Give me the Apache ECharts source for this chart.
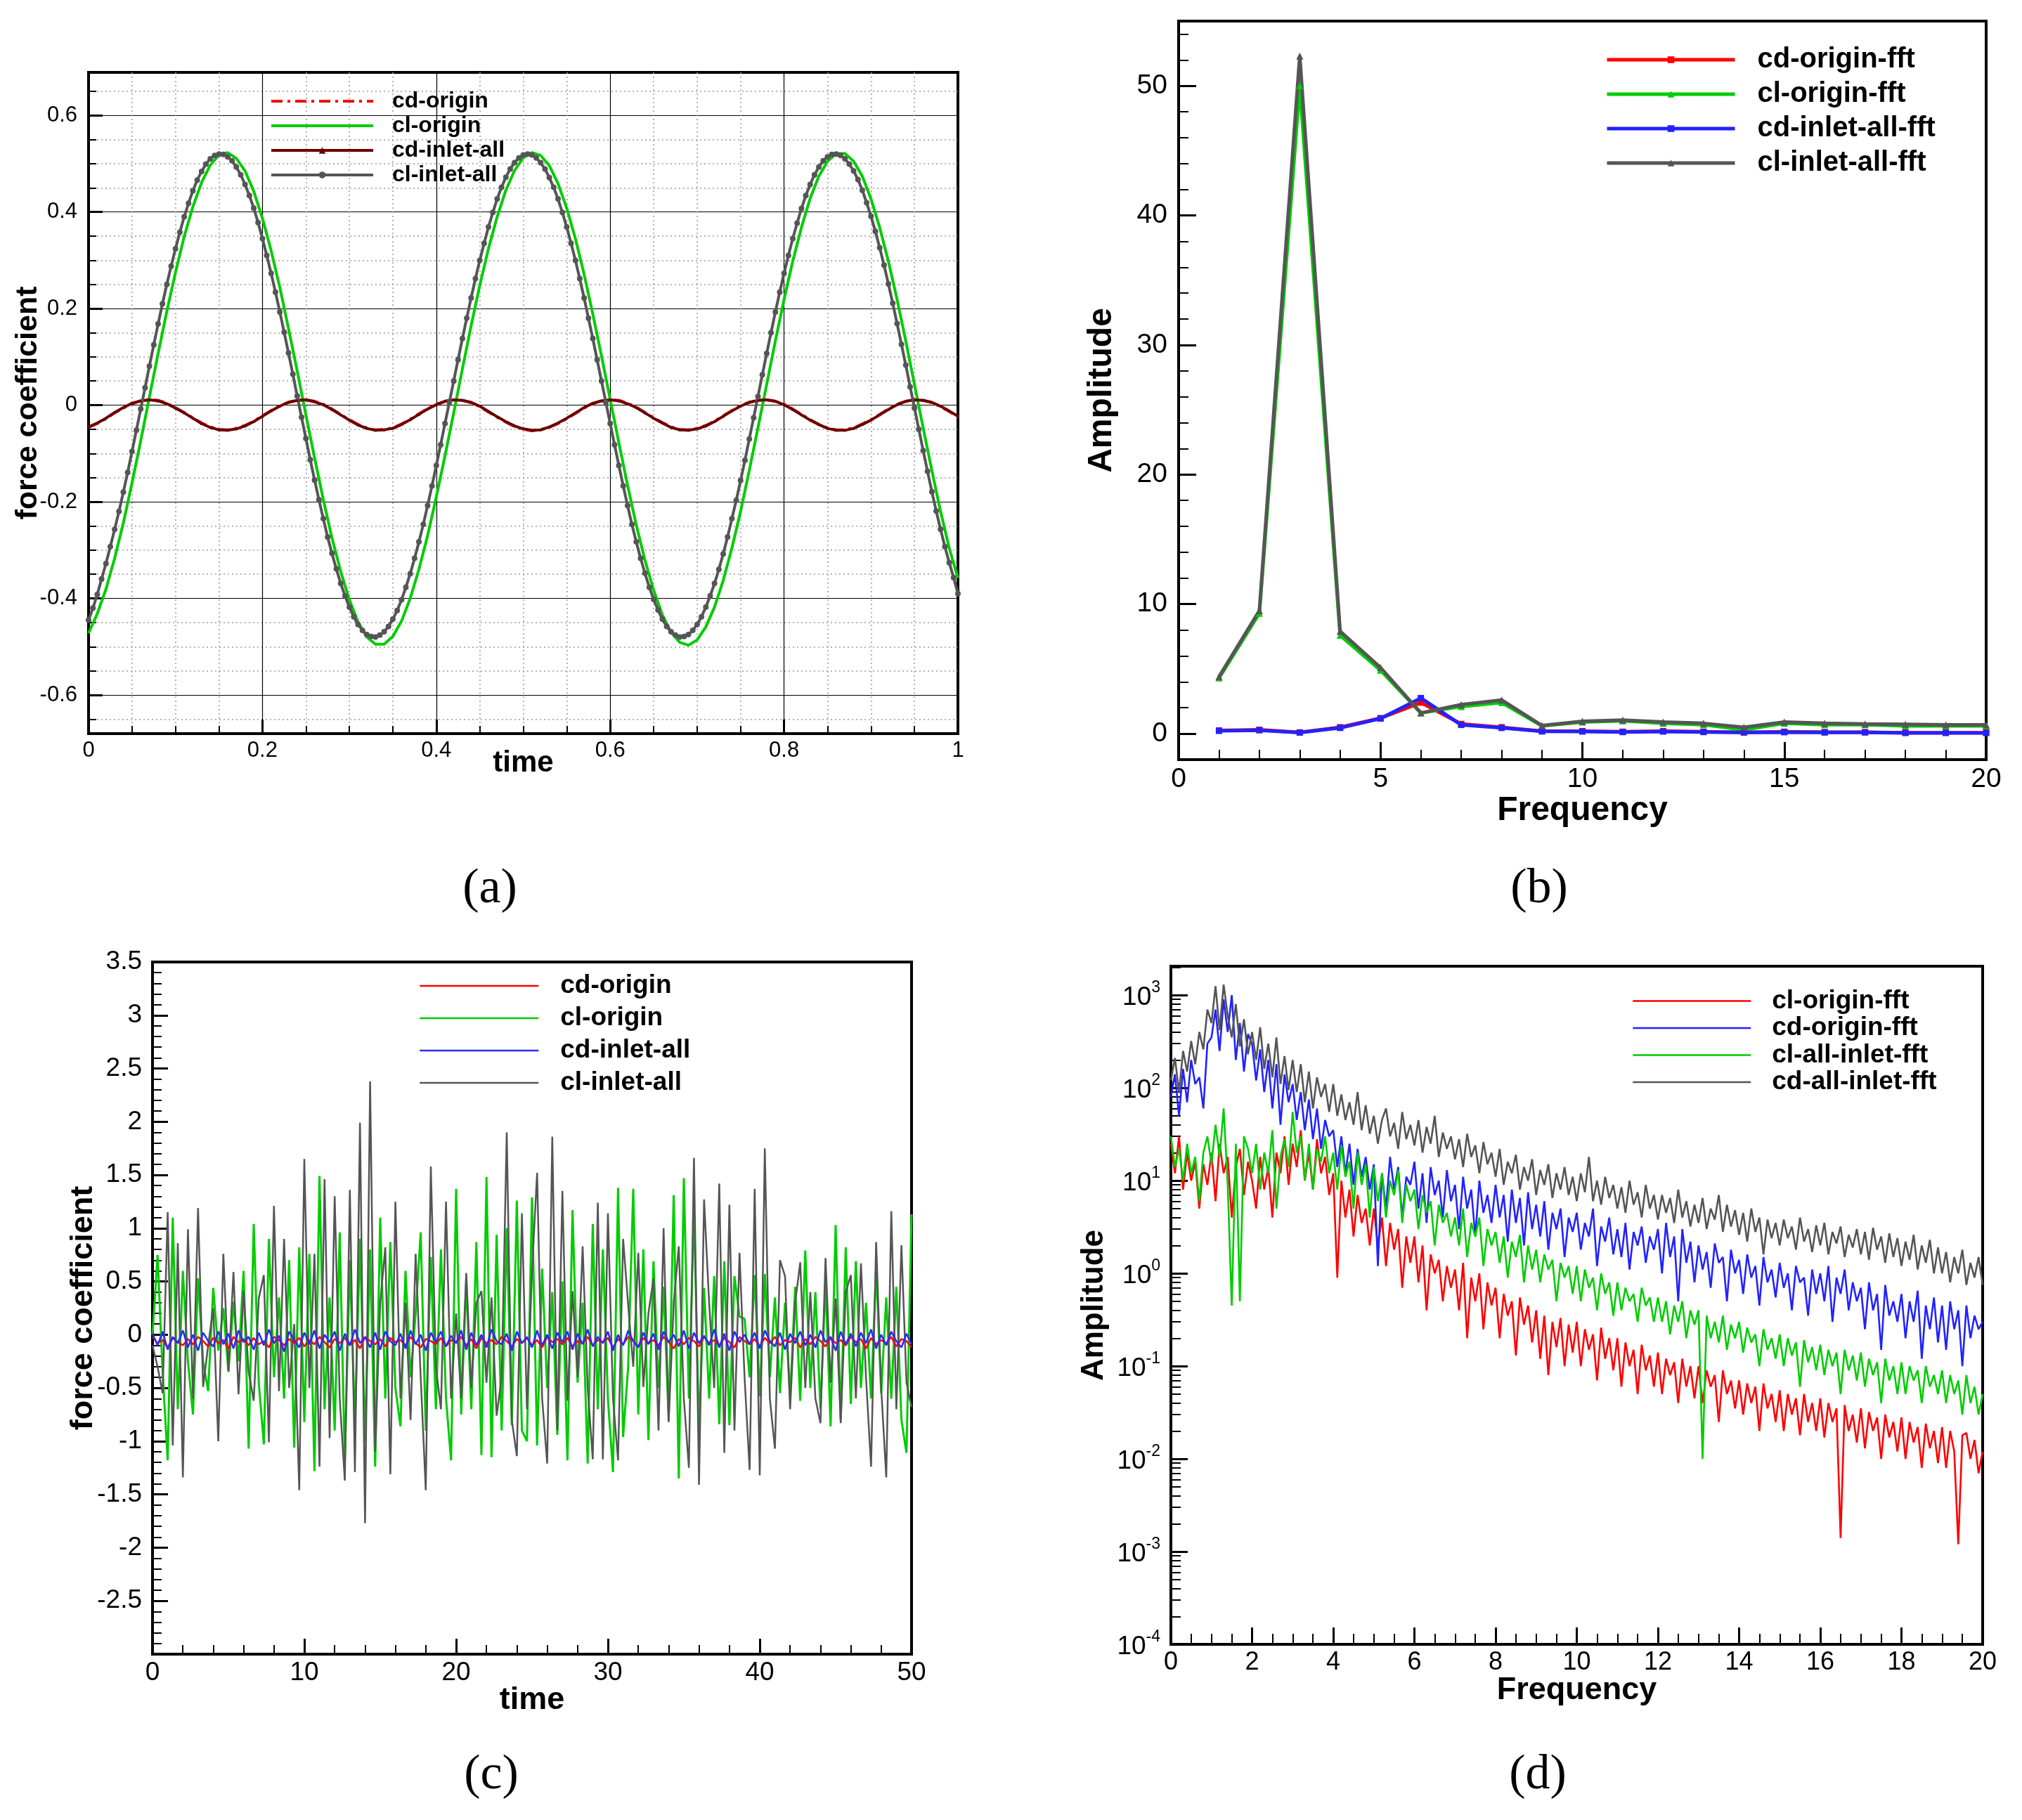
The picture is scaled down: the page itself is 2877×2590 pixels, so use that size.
<!DOCTYPE html>
<html><head><meta charset="utf-8">
<script src="https://cdn.jsdelivr.net/npm/echarts@6/dist/echarts.min.js"></script>
<style>html,body{margin:0;padding:0;background:#fff}#c{width:2877px;height:2590px}</style>
</head><body><div id="c"></div>
<script>
// ---------- panel (a): force coefficients, t = 0..1 ----------
const aCdOrigin = [-0.046,-0.038,-0.028,-0.016,-0.006,0.003,0.009,0.011,0.010,0.004,
-0.005,-0.015,-0.026,-0.037,-0.045,-0.050,-0.051,-0.048,-0.042,-0.033,
-0.022,-0.011,-0.001,0.006,0.010,0.011,0.008,0.002,-0.008,-0.019,
-0.030,-0.040,-0.047,-0.051,-0.050,-0.047,-0.039,-0.029,-0.018,-0.007,
0.002,0.008,0.011,0.010,0.005,-0.003,-0.014,-0.025,-0.035,-0.044,
-0.050,-0.053,-0.051,-0.046,-0.038,-0.028,-0.017,-0.006,0.003,0.009,
0.011,0.010,0.004,-0.004,-0.015,-0.026,-0.036,-0.045,-0.050,-0.051,
-0.048,-0.042,-0.033,-0.022,-0.011,-0.001,0.006,0.010,0.011,0.008,
0.002,-0.008,-0.019,-0.030,-0.040,-0.047,-0.051,-0.051,-0.047,-0.039,
-0.030,-0.019,-0.008,0.002,0.008,0.011,0.010,0.005,-0.003,-0.013,
-0.024];
const aClOrigin = [-0.472,-0.432,-0.381,-0.317,-0.244,-0.161,-0.074,0.017,0.107,0.194,
0.275,0.349,0.411,0.461,0.497,0.518,0.523,0.511,0.485,0.443,
0.387,0.320,0.244,0.159,0.071,-0.020,-0.109,-0.195,-0.275,-0.344,
-0.403,-0.449,-0.480,-0.495,-0.495,-0.479,-0.447,-0.400,-0.340,-0.270,
-0.190,-0.105,-0.016,0.075,0.164,0.248,0.324,0.390,0.445,0.486,
0.512,0.523,0.517,0.496,0.459,0.408,0.345,0.271,0.189,0.102,
0.012,-0.078,-0.166,-0.248,-0.321,-0.383,-0.434,-0.470,-0.491,-0.497,
-0.486,-0.459,-0.418,-0.363,-0.296,-0.220,-0.135,-0.047,0.043,0.133,
0.219,0.298,0.368,0.428,0.474,0.505,0.521,0.521,0.505,0.474,
0.427,0.368,0.298,0.219,0.133,0.043,-0.047,-0.135,-0.220,-0.296,
-0.358];
const aCdInlet = [-0.045,-0.037,-0.027,-0.015,-0.005,0.004,0.009,0.011,0.009,0.003,
-0.006,-0.016,-0.027,-0.038,-0.046,-0.051,-0.052,-0.049,-0.043,-0.034,
-0.023,-0.012,-0.002,0.006,0.010,0.011,0.007,0.001,-0.009,-0.020,
-0.031,-0.041,-0.048,-0.052,-0.051,-0.048,-0.040,-0.030,-0.019,-0.008,
0.001,0.008,0.011,0.010,0.006,-0.002,-0.013,-0.024,-0.034,-0.043,
-0.049,-0.052,-0.051,-0.045,-0.037,-0.027,-0.016,-0.005,0.004,0.009,
0.011,0.009,0.003,-0.005,-0.016,-0.027,-0.037,-0.046,-0.051,-0.052,
-0.049,-0.043,-0.034,-0.023,-0.012,-0.002,0.006,0.010,0.011,0.008,
0.001,-0.009,-0.020,-0.031,-0.040,-0.048,-0.052,-0.052,-0.048,-0.040,
-0.031,-0.020,-0.009,0.001,0.008,0.011,0.010,0.006,-0.002,-0.012,
-0.023];
const aClInlet = [-0.445,-0.420,-0.392,-0.360,-0.328,-0.293,-0.257,-0.220,-0.180,-0.139,
-0.096,-0.052,-0.008,0.036,0.081,0.125,0.168,0.210,0.250,0.288,
0.324,0.358,0.390,0.418,0.444,0.466,0.484,0.499,0.510,0.517,
0.520,0.519,0.514,0.506,0.493,0.477,0.457,0.434,0.408,0.378,
0.345,0.310,0.273,0.234,0.193,0.151,0.108,0.064,0.019,-0.025,
-0.069,-0.113,-0.155,-0.196,-0.235,-0.273,-0.307,-0.339,-0.369,-0.395,
-0.418,-0.438,-0.454,-0.466,-0.475,-0.479,-0.480,-0.476,-0.469,-0.458,
-0.443,-0.425,-0.403,-0.377,-0.349,-0.317,-0.283,-0.247,-0.208,-0.167,
-0.125,-0.082,-0.038,0.006,0.050,0.094,0.138,0.180,0.222,0.262,
0.300,0.335,0.369,0.399,0.427,0.451,0.472,0.489,0.502,0.512,
0.518,0.520,0.518,0.512,0.502,0.489,0.471,0.451,0.427,0.399,
0.369,0.335,0.300,0.262,0.222,0.180,0.138,0.094,0.050,0.006,
-0.038,-0.082,-0.125,-0.167,-0.208,-0.247,-0.283,-0.317,-0.348,-0.377,
-0.402,-0.424,-0.443,-0.458,-0.469,-0.476,-0.480,-0.479,-0.475,-0.466,
-0.454,-0.438,-0.418,-0.395,-0.369,-0.340,-0.308,-0.273,-0.235,-0.197,
-0.156,-0.114,-0.070,-0.026,0.018,0.063,0.107,0.150,0.193,0.234,
0.273,0.310,0.345,0.377,0.407,0.434,0.457,0.477,0.493,0.506,
0.514,0.519,0.520,0.517,0.510,0.499,0.485,0.467,0.445,0.419,
0.391,0.360,0.326,0.290,0.251,0.211,0.169,0.126,0.083,0.038,
-0.006,-0.050,-0.094,-0.137,-0.179,-0.219,-0.257,-0.293,-0.326,-0.357,
-0.390];
const aYMajor = [-0.6,-0.4,-0.2,0,0.2,0.4,0.6];
const aYMinor = [-0.65,-0.55,-0.5,-0.45,-0.35,-0.3,-0.25,-0.15,-0.1,-0.05,0.05,0.1,0.15,0.25,0.3,0.35,0.45,0.5,0.55,0.65];

// ---------- panel (b): FFT amplitude, frequency 1..20 ----------
const bFreq = [1,2,3,4,5,6,7,8,9,10,11,12,13,14,15,16,17,18,19,20];
const bCdOrigin = [0.25,0.3,0.1,0.5,1.2,2.4,0.75,0.5,0.2,0.2,0.15,0.2,0.15,0.1,0.15,0.12,0.12,0.08,0.08,0.08];
const bClOrigin = [4.3,9.3,50.0,7.6,4.9,1.6,2.1,2.4,0.6,0.9,1.0,0.8,0.7,0.3,0.8,0.7,0.7,0.6,0.6,0.6];
const bCdInlet = [0.22,0.27,0.09,0.45,1.17,2.75,0.68,0.45,0.18,0.17,0.13,0.17,0.13,0.1,0.12,0.1,0.1,0.06,0.06,0.06];
const bClInlet = [4.4,9.5,52.3,7.9,5.1,1.6,2.25,2.6,0.63,0.95,1.05,0.9,0.8,0.5,0.9,0.8,0.75,0.72,0.68,0.68];
const bYMajor = [0,10,20,30,40,50];
const bYMinor = [2,4,6,8,12,14,16,18,22,24,26,28,32,34,36,38,42,44,46,48,52,54];

// ---------- panel (c): force coefficients, t = 0..50 (step 1/3) ----------
const cCdOrigin = [-0.02,-0.08,-0.05,-0.12,-0.03,-0.07,-0.10,-0.04,-0.09,-0.02,
-0.06,-0.11,-0.03,-0.08,-0.05,-0.13,-0.02,-0.07,-0.04,-0.10,
-0.03,-0.09,-0.06,-0.12,-0.02,-0.05,-0.10,-0.04,-0.08,-0.03,
-0.11,-0.05,-0.09,-0.02,-0.07,-0.12,-0.04,-0.08,-0.03,-0.10,
-0.05,-0.13,-0.02,-0.06,-0.09,-0.04,-0.11,-0.03,-0.07,-0.05,
-0.10,-0.02,-0.08,-0.12,-0.04,-0.06,-0.09,-0.03,-0.11,-0.05,
-0.07,-0.02,-0.10,-0.04,-0.13,-0.03,-0.08,-0.05,-0.09,-0.02,
-0.06,-0.11,-0.04,-0.08,-0.03,-0.10,-0.05,-0.12,-0.02,-0.07,
-0.04,-0.09,-0.03,-0.11,-0.06,-0.08,-0.02,-0.10,-0.05,-0.07,
-0.03,-0.12,-0.04,-0.09,-0.02,-0.06,-0.11,-0.03,-0.08,-0.05,
-0.10,-0.02,-0.07,-0.13,-0.04,-0.09,-0.03,-0.06,-0.11,-0.02,
-0.08,-0.05,-0.10,-0.03,-0.07,-0.12,-0.02,-0.06,-0.09,-0.04,
-0.11,-0.03,-0.08,-0.02,-0.10,-0.05,-0.07,-0.03,-0.12,-0.04,
-0.09,-0.02,-0.06,-0.11,-0.03,-0.08,-0.05,-0.10,-0.02,-0.07,
-0.04,-0.13,-0.03,-0.09,-0.05,-0.08,-0.02,-0.11,-0.04,-0.06,
-0.12];
const cClOrigin = [0.00,0.75,-0.35,-1.18,1.10,-0.70,0.60,-0.25,-0.75,0.53,
-0.25,-0.53,0.44,-0.15,0.25,-0.35,0.31,-0.25,0.60,-1.07,
1.04,-0.45,-1.03,0.90,-0.40,0.35,-0.60,0.70,-1.06,0.82,
-0.82,0.76,-1.28,1.49,-0.70,0.35,-0.90,0.96,-1.18,0.70,
-0.85,0.90,-1.00,0.80,-1.24,1.10,-0.60,0.87,-0.50,-0.86,
0.60,-0.40,0.20,0.96,-0.90,0.73,-0.70,0.80,-0.60,-1.18,
1.37,-0.75,0.50,-0.70,0.87,-1.13,1.48,-1.15,0.94,-0.90,
1.00,-0.85,1.26,-0.90,-1.00,1.29,-1.04,0.62,-0.50,0.40,
-0.94,0.50,-1.18,1.17,-0.45,0.30,-1.21,1.04,-0.70,0.80,
-0.60,-1.29,1.38,-0.96,-0.30,1.37,-0.75,0.80,-0.99,0.69,
-0.50,0.45,-0.80,1.31,-1.35,1.47,-0.60,1.18,-0.90,0.44,
-0.60,0.55,-0.84,0.69,-0.85,0.55,0.17,0.15,-0.40,0.56,
-0.58,0.57,-0.40,0.35,-0.55,0.30,-0.60,0.45,-0.62,0.79,
-0.50,0.40,-0.70,0.50,-0.86,1.03,-0.80,0.82,-0.65,0.69,
-0.50,0.30,-0.60,0.63,-0.55,0.35,-0.60,0.45,-0.80,-1.11,
1.13];
const cCdInlet = [0.01,-0.10,0.03,-0.14,-0.02,-0.08,0.04,-0.12,0.00,-0.15,
0.02,-0.06,-0.11,0.03,-0.09,0.01,-0.13,0.04,-0.07,-0.02,
-0.14,0.02,-0.10,0.05,-0.08,-0.01,-0.16,0.03,-0.05,-0.12,
0.02,-0.09,0.04,-0.13,0.00,-0.07,0.03,-0.15,0.01,-0.10,
0.05,-0.08,-0.02,-0.12,0.02,-0.14,0.03,-0.06,-0.10,0.01,
-0.13,0.04,-0.09,0.00,-0.15,0.02,-0.07,0.03,-0.11,-0.01,
-0.08,0.04,-0.14,0.02,-0.10,0.00,-0.12,0.05,-0.06,-0.09,
0.01,-0.15,0.03,-0.08,-0.02,-0.12,0.04,-0.10,0.00,-0.13,
0.02,-0.07,0.03,-0.14,0.01,-0.09,0.05,-0.11,-0.02,-0.08,
0.03,-0.15,0.00,-0.10,0.04,-0.06,-0.12,0.02,-0.09,0.01,
-0.14,0.03,-0.07,0.00,-0.11,0.04,-0.13,0.02,-0.08,-0.01,
-0.10,0.05,-0.12,0.01,-0.15,0.03,-0.07,0.00,-0.09,0.02,
-0.13,0.04,-0.06,-0.11,0.02,-0.14,0.01,-0.08,0.03,-0.10,
0.00,-0.12,0.04,-0.07,-0.02,-0.15,0.03,-0.09,0.01,-0.11,
0.02,-0.08,0.05,-0.13,0.00,-0.10,0.03,-0.06,-0.12,0.01,
-0.09];
const cClInlet = [-0.10,-0.30,-0.55,1.15,-1.04,0.86,-1.34,0.99,-0.60,1.19,
-0.49,-0.10,0.25,-1.00,0.76,-0.34,0.59,-0.56,0.41,-0.35,
-0.62,0.34,0.56,-1.01,1.21,-0.53,0.90,-0.50,0.10,-1.46,
1.65,-0.50,0.76,-1.24,1.46,-0.97,1.30,-0.60,-1.37,1.36,
-1.29,1.99,-1.77,2.38,-1.10,0.30,0.82,-1.31,1.25,-0.60,
0.30,-0.80,0.76,-0.40,-1.46,1.58,-0.30,-0.70,1.25,-0.60,
0.20,-0.60,0.58,-0.50,0.30,0.41,-0.45,0.35,-0.76,-0.40,
1.90,-0.80,-1.14,1.14,-0.70,0.60,1.52,-0.60,-1.21,1.86,
-0.90,1.35,-0.62,0.41,-0.40,0.83,-0.50,-1.17,1.24,-1.17,
1.14,-0.60,-1.18,0.90,0.28,-0.30,0.77,-0.49,0.20,0.53,
-0.90,1.00,-0.82,0.30,0.83,-0.60,-1.25,1.66,-1.41,1.27,
0.30,-0.50,1.42,-1.11,1.22,-0.90,0.77,-0.40,-1.27,1.37,
-1.32,1.75,-0.60,-1.07,0.70,0.55,-0.70,0.30,0.68,-0.50,
0.40,-0.60,-0.83,0.72,-0.45,0.34,-0.83,0.40,0.56,-0.60,
0.67,-0.40,-1.24,0.87,-0.50,-1.34,1.16,-0.70,0.84,-0.45,
-0.68];

// ---------- panel (d): FFT amplitude (log), frequency 0..20 (step 0.1) ----------
const dClOrigin = [25,12,30,8,20,10,16,5,15,9,
20,6,25,12,18,4,14,22,7,16,
10,5,18,8,14,4,20,12,30,9,
25,14,35,10,20,8,28,12,18,7,
12,0.9,10,4,8,2.5,7,3.5,5,2,
5,2,4,1.2,3.5,1.8,3,0.7,2.5,1.3,
2.5,0.8,2,0.4,1.6,1,1.4,0.5,1.2,0.7,
1.1,0.4,1.3,0.2,0.9,0.5,1.0,0.25,0.8,0.45,
0.7,0.2,0.6,0.35,0.5,0.13,0.55,0.28,0.45,0.18,
0.4,0.12,0.35,0.08,0.3,0.16,0.33,0.1,0.28,0.14,
0.3,0.1,0.25,0.15,0.22,0.07,0.26,0.12,0.2,0.09,
0.2,0.06,0.18,0.1,0.15,0.05,0.17,0.09,0.13,0.06,
0.14,0.05,0.12,0.08,0.11,0.04,0.12,0.06,0.1,0.045,
0.1,0.04,0.09,0.06,0.08,0.025,0.09,0.05,0.07,0.035,
0.07,0.03,0.065,0.04,0.06,0.02,0.065,0.035,0.05,0.025,
0.055,0.02,0.05,0.03,0.045,0.018,0.05,0.025,0.04,0.02,
0.045,0.017,0.04,0.025,0.035,0.0014,0.038,0.02,0.03,0.015,
0.035,0.013,0.032,0.02,0.028,0.01,0.03,0.017,0.025,0.012,
0.028,0.01,0.025,0.015,0.022,0.008,0.024,0.013,0.02,0.009,
0.022,0.008,0.02,0.012,0.0012,0.018,0.019,0.01,0.016,0.007,
0.012];
const dCdOrigin = [80,140,50,160,70,200,110,130,60,300,
350,700,250,900,400,1000,200,500,150,380,
300,120,260,90,200,60,180,40,140,70,
110,45,90,35,75,28,60,22,45,30,
35,14,30,12,25,9,22,11,18,8,
15,1.2,12,5,18,8,14,4,11,9,
16,5,12,3.5,14,7,10,4,13,6,
9,3,11,5,8,2.5,10,4.5,7,3.5,
9,4,7,2.2,8,3.5,6.5,2,7.5,3,
5.5,2.5,6,1.8,4.5,3,5,1.5,4,2.8,
4.5,1.8,3.5,2.5,5,1.2,3.2,2.2,4,1.6,
3,1.5,3.5,1.1,2.8,2,3.2,1.3,2.5,1.8,
3,1.0,3.5,1.5,2.5,0.5,3,1.3,2.2,0.8,
2,1.1,1.7,0.7,2.1,1.3,1.5,0.5,1.8,1,
1.4,0.6,1.6,0.9,1.2,0.45,1.5,0.8,1.1,0.55,
1.3,0.7,1,0.4,1.2,0.8,0.9,0.35,1.1,0.6,
1,0.5,1.2,0.3,0.9,0.6,1.1,0.4,0.8,0.5,
0.7,0.25,0.8,0.4,0.6,0.15,0.75,0.35,0.5,0.3,
0.6,0.2,0.5,0.3,0.65,0.12,0.45,0.25,0.55,0.18,
0.45,0.15,0.5,0.25,0.4,0.1,0.45,0.2,0.35,0.25,
0.3];
const dClInlet = [30,14,22,10,25,12,18,6,20,30,
15,40,18,60,9,0.45,25,0.5,30,22,
12,25,8,20,12,35,5,18,28,14,
55,20,30,10,25,8,22,16,30,12,
20,8,24,11,16,5,20,9,15,4,
14,6,12,4,10,7,13,3.5,9,6,
8,3,7,4.5,6,2,5.5,3.5,4.5,2.5,
4,2,5,1.5,3.5,2.5,4,1.2,3,2,
2.8,1.3,2.5,0.9,2.2,1.5,2.6,0.8,2,1.1,
1.8,0.8,1.6,1.1,1.4,0.5,1.3,0.9,1.2,0.6,
1.2,0.5,1.1,0.7,0.9,0.4,1.0,0.6,0.8,0.35,
0.8,0.4,0.7,0.5,0.6,0.3,0.7,0.45,0.55,0.3,
0.55,0.3,0.5,0.22,0.45,0.3,0.5,0.2,0.4,0.28,
0.4,0.01,0.35,0.2,0.3,0.18,0.35,0.15,0.28,0.2,
0.3,0.14,0.26,0.18,0.22,0.1,0.25,0.15,0.2,0.12,
0.22,0.1,0.2,0.13,0.18,0.06,0.19,0.11,0.16,0.09,
0.17,0.08,0.15,0.1,0.14,0.05,0.15,0.09,0.13,0.07,
0.14,0.06,0.12,0.08,0.11,0.04,0.12,0.07,0.1,0.05,
0.11,0.05,0.1,0.07,0.09,0.04,0.1,0.06,0.08,0.05,
0.09,0.04,0.08,0.05,0.07,0.03,0.08,0.04,0.06,0.03,
0.05];
const dCdInlet = [120,210,90,250,150,320,180,400,260,700,
500,1250,420,1300,600,350,800,280,550,230,
400,200,450,160,300,130,350,110,220,95,
200,90,180,70,150,60,130,80,110,55,
110,50,85,45,70,40,90,35,65,32,
50,25,45,60,30,42,22,55,28,40,
24,45,20,38,25,50,18,33,22,30,
17,28,14,32,18,24,12,26,15,20,
11,22,9,16,12,19,8,14,10,17,
7,13,9,15,6.5,12,8,14,7,11,
6,12,7.5,18,6,10,5.5,11,6.5,9,
5,8.5,4.5,10,5.5,7.5,4,9,5,7,
3.8,7,4.5,6.5,3.5,8,4,6,3.2,5.5,
3.5,6.5,3,5,3.8,7,2.8,5.5,3.2,4.8,
2.6,4.5,2.2,5,2.8,4,1.6,3.8,2.4,3.5,
2,3.8,2.4,3.2,1.8,4,2.2,3,1.7,3.3,
2,3.5,1.6,2.8,2.1,3.2,1.5,2.6,1.9,3,
1.6,2.8,1.4,3.1,1.8,2.5,1.3,2.7,1.5,2.4,
1.2,2.2,1.4,2.6,1.1,2,1.3,2.3,1.0,1.9,
1.0,1.7,0.8,1.5,1.0,1.8,0.75,1.3,0.9,1.5,
0.75];
const dYMajor = [0.0001,0.001,0.01,0.1,1,10,100,1000];

// ---------- sample grids ----------
function grid1d(n, step) { return Array.from({length: n}, (_, i) => +(i * step).toFixed(6)); }
const aTime = grid1d(101, 0.01);
const aTimeFine = grid1d(201, 0.005);
const cTime = Array.from({length: 151}, (_, i) => +(i / 3).toFixed(5));
const dFreq = grid1d(201, 0.1);
const dYMinor = [];
for (let n = -4; n <= 3; n++) for (let k = 2; k <= 9; k++) { const v = +(k * Math.pow(10, n)).toPrecision(3); if (v <= 2050) dYMinor.push(v); }
function pair(xs, ys) { return ys.map((v, i) => [xs[i], v]); }

// ---------- styling helpers ----------
const FONT = '"Liberation Sans", Arial, Helvetica, sans-serif';
function merge(a, b) {
  const out = Object.assign({}, a);
  for (const k in b) {
    const v = b[k];
    if (v && typeof v === 'object' && !Array.isArray(v) && a[k] && typeof a[k] === 'object' && !Array.isArray(a[k])) out[k] = merge(a[k], v);
    else out[k] = v;
  }
  return out;
}
const AX = {
  type: 'value', nameLocation: 'middle', nameMoveOverlap: false,
  nameTextStyle: {fontFamily: FONT, fontWeight: 'bold', color: '#000'},
  axisLine: {show: true, onZero: false, lineStyle: {color: '#000', width: 4}},
  axisTick: {show: true, inside: true, length: 22, lineStyle: {color: '#000', width: 3}},
  minorTick: {show: true, length: 12, lineStyle: {color: '#000', width: 2}},
  axisLabel: {color: '#000', fontFamily: FONT},
  splitLine: {show: false}
};
const GRIDSTYLE = {show: true, borderColor: '#000', borderWidth: 4, backgroundColor: 'transparent'};
const MINORGRID = {color: '#9a9a9a', width: 1.5, type: [2, 4]};
const NOSYM = {opacity: 0};

function legend(items, left, top, w, fs, lh, gap, pad, lw) {
  return {
    data: items, left: left, top: top, orient: 'vertical', padding: 0, selectedMode: false,
    itemWidth: w, itemHeight: 12, itemGap: gap,
    lineStyle: {width: lw},
    formatter: n => n.slice(2),
    textStyle: {fontFamily: FONT, fontSize: fs, fontWeight: 'bold', color: '#000', lineHeight: lh, padding: [0, 0, 0, pad]}
  };
}
function line(name, xi, yi, data, color, width, extra) {
  return merge({
    name: name, type: 'line', xAxisIndex: xi, yAxisIndex: yi, data: data,
    symbol: 'none', silent: true, animation: false,
    lineStyle: {color: color, width: width}, itemStyle: {color: color}
  }, extra || {});
}

const chart = echarts.init(document.getElementById('c'), null, {renderer: 'canvas'});
chart.setOption({
  animation: false,
  backgroundColor: '#fff',
  grid: [
    merge(GRIDSTYLE, {left: 126, top: 103, width: 1237, height: 941}),
    merge(GRIDSTYLE, {left: 1677, top: 30, width: 1149, height: 1051}),
    merge(GRIDSTYLE, {left: 217, top: 1369, width: 1080, height: 985}),
    merge(GRIDSTYLE, {left: 1666, top: 1375, width: 1155, height: 965})
  ],
  xAxis: [
    merge(AX, {gridIndex: 0, min: 0, max: 1, interval: 0.2, name: 'time', nameGap: 21,
      nameTextStyle: {fontSize: 42}, axisTick: {length: 20}, minorTick: {splitNumber: 4, length: 11},
      axisLabel: {fontSize: 31, margin: 9},
      splitLine: {show: true, lineStyle: {color: '#000', width: 1.2}},
      minorSplitLine: {show: true, lineStyle: MINORGRID}}),
    merge(AX, {gridIndex: 1, min: 0, max: 20, interval: 5, name: 'Frequency', nameGap: 49,
      nameTextStyle: {fontSize: 48}, axisTick: {length: 25}, minorTick: {splitNumber: 5, length: 14},
      axisLabel: {fontSize: 39, margin: 9}}),
    merge(AX, {gridIndex: 2, min: 0, max: 50, interval: 10, name: 'time', nameGap: 43,
      nameTextStyle: {fontSize: 45}, axisTick: {length: 22}, minorTick: {splitNumber: 5, length: 13},
      axisLabel: {fontSize: 37, margin: 8}}),
    merge(AX, {gridIndex: 3, min: 0, max: 20, interval: 2, name: 'Frequency', nameGap: 43,
      nameTextStyle: {fontSize: 45}, axisTick: {length: 24}, minorTick: {splitNumber: 4, length: 15},
      axisLabel: {fontSize: 36, margin: 8}})
  ],
  yAxis: [
    merge(AX, {gridIndex: 0, position: 'left', min: -0.68, max: 0.689, name: 'force coefficient', nameGap: 64,
      nameTextStyle: {fontSize: 43}, axisTick: {length: 20, customValues: aYMajor}, minorTick: {show: false},
      axisLabel: {fontSize: 31, margin: 16, customValues: aYMajor},
      splitLine: {show: true, customValues: aYMajor, lineStyle: {color: '#000', width: 1.2}}}),
    merge(AX, {gridIndex: 0, position: 'left', min: -0.68, max: 0.689, axisLine: {show: false},
      axisTick: {length: 11, customValues: aYMinor, lineStyle: {width: 2}}, minorTick: {show: false},
      axisLabel: {show: false}, splitLine: {show: true, customValues: aYMinor, lineStyle: MINORGRID}}),
    merge(AX, {gridIndex: 1, position: 'left', min: -2, max: 55, name: 'Amplitude', nameGap: 85,
      nameTextStyle: {fontSize: 48}, axisTick: {length: 25, customValues: bYMajor}, minorTick: {show: false},
      axisLabel: {fontSize: 39, margin: 16, customValues: bYMajor}}),
    merge(AX, {gridIndex: 1, position: 'left', min: -2, max: 55, axisLine: {show: false},
      axisTick: {length: 14, customValues: bYMinor, lineStyle: {width: 2}}, minorTick: {show: false},
      axisLabel: {show: false}}),
    merge(AX, {gridIndex: 2, position: 'left', min: -3, max: 3.5, interval: 0.5, name: 'force coefficient', nameGap: 76,
      nameTextStyle: {fontSize: 45}, axisTick: {length: 22}, minorTick: {splitNumber: 5, length: 13},
      axisLabel: {fontSize: 37, margin: 15, showMinLabel: false}}),
    merge(AX, {gridIndex: 3, position: 'left', type: 'log', logBase: 10, min: 0.0001, max: 2050, name: 'Amplitude', nameGap: 87,
      nameTextStyle: {fontSize: 44}, axisTick: {length: 24, customValues: dYMajor}, minorTick: {show: false},
      axisLabel: {margin: 15, customValues: dYMajor,
        formatter: v => '{b|10}{e|' + Math.round(Math.log10(v)) + '}',
        rich: {
          b: {fontSize: 37, fontFamily: FONT, color: '#000', verticalAlign: 'bottom', lineHeight: 44},
          e: {fontSize: 23, fontFamily: FONT, color: '#000', verticalAlign: 'top', lineHeight: 44}
        }}}),
    merge(AX, {gridIndex: 3, position: 'left', type: 'log', logBase: 10, min: 0.0001, max: 2050, axisLine: {show: false},
      axisTick: {length: 14, customValues: dYMinor, lineStyle: {width: 2}}, minorTick: {show: false},
      axisLabel: {show: false}})
  ],
  legend: [
    legend([{name: 'a:cd-origin', itemStyle: NOSYM}, {name: 'a:cl-origin', itemStyle: NOSYM}, 'a:cd-inlet-all', 'a:cl-inlet-all'], 384, 128, 145, 32, 30, 3, 22, 4),
    legend(['b:cd-origin-fft', 'b:cl-origin-fft', 'b:cd-inlet-all-fft', 'b:cl-inlet-all-fft'], 2284, 64, 182, 40, 42, 7, 27, 5),
    legend([{name: 'c:cd-origin', itemStyle: NOSYM}, {name: 'c:cl-origin', itemStyle: NOSYM}, {name: 'c:cd-inlet-all', itemStyle: NOSYM}, {name: 'c:cl-inlet-all', itemStyle: NOSYM}], 596, 1384, 169, 37, 38, 8, 26, 2.5),
    legend([{name: 'd:cl-origin-fft', itemStyle: NOSYM}, {name: 'd:cd-origin-fft', itemStyle: NOSYM}, {name: 'd:cl-all-inlet-fft', itemStyle: NOSYM}, {name: 'd:cd-all-inlet-fft', itemStyle: NOSYM}], 2322, 1406, 168, 37, 36, 1.5, 25, 2.5)
  ],
  series: [
    line('a:cd-origin', 0, 0, pair(aTime, aCdOrigin), '#ff0000', 4, {lineStyle: {type: [16, 7, 4, 7]}}),
    line('a:cl-origin', 0, 0, pair(aTime, aClOrigin), '#00cc00', 4),
    line('a:cd-inlet-all', 0, 0, pair(aTime, aCdInlet), '#6b0000', 4, {symbol: 'triangle', symbolSize: 4}),
    line('a:cl-inlet-all', 0, 0, pair(aTimeFine, aClInlet), '#555555', 4, {symbol: 'circle', symbolSize: 8}),
    line('b:cd-origin-fft', 1, 2, pair(bFreq, bCdOrigin), '#ff0000', 5, {symbol: 'rect', symbolSize: 9}),
    line('b:cl-origin-fft', 1, 2, pair(bFreq, bClOrigin), '#00cc00', 5, {symbol: 'triangle', symbolSize: 10}),
    line('b:cd-inlet-all-fft', 1, 2, pair(bFreq, bCdInlet), '#2222ff', 5, {symbol: 'rect', symbolSize: 9}),
    line('b:cl-inlet-all-fft', 1, 2, pair(bFreq, bClInlet), '#555555', 5, {symbol: 'triangle', symbolSize: 10}),
    line('c:cl-origin', 2, 4, pair(cTime, cClOrigin), '#00cc00', 3),
    line('c:cl-inlet-all', 2, 4, pair(cTime, cClInlet), '#555555', 2.5),
    line('c:cd-origin', 2, 4, pair(cTime, cCdOrigin), '#ff0000', 2.5),
    line('c:cd-inlet-all', 2, 4, pair(cTime, cCdInlet), '#2a2aff', 2.5),
    line('d:cl-origin-fft', 3, 5, pair(dFreq, dClOrigin), '#ff0000', 2.6),
    line('d:cd-origin-fft', 3, 5, pair(dFreq, dCdOrigin), '#2222ff', 2.6),
    line('d:cl-all-inlet-fft', 3, 5, pair(dFreq, dClInlet), '#00cc00', 2.6),
    line('d:cd-all-inlet-fft', 3, 5, pair(dFreq, dCdInlet), '#555555', 2.6)
  ],
  graphic: [
    {type: 'text', x: 697, y: 1266, style: {text: '(a)', fontSize: 70, fontFamily: '"Liberation Serif", serif', fill: '#000', align: 'center', verticalAlign: 'middle'}},
    {type: 'text', x: 2190, y: 1266, style: {text: '(b)', fontSize: 70, fontFamily: '"Liberation Serif", serif', fill: '#000', align: 'center', verticalAlign: 'middle'}},
    {type: 'text', x: 699, y: 2527, style: {text: '(c)', fontSize: 70, fontFamily: '"Liberation Serif", serif', fill: '#000', align: 'center', verticalAlign: 'middle'}},
    {type: 'text', x: 2188, y: 2527, style: {text: '(d)', fontSize: 70, fontFamily: '"Liberation Serif", serif', fill: '#000', align: 'center', verticalAlign: 'middle'}}
  ]
});
</script></body></html>
